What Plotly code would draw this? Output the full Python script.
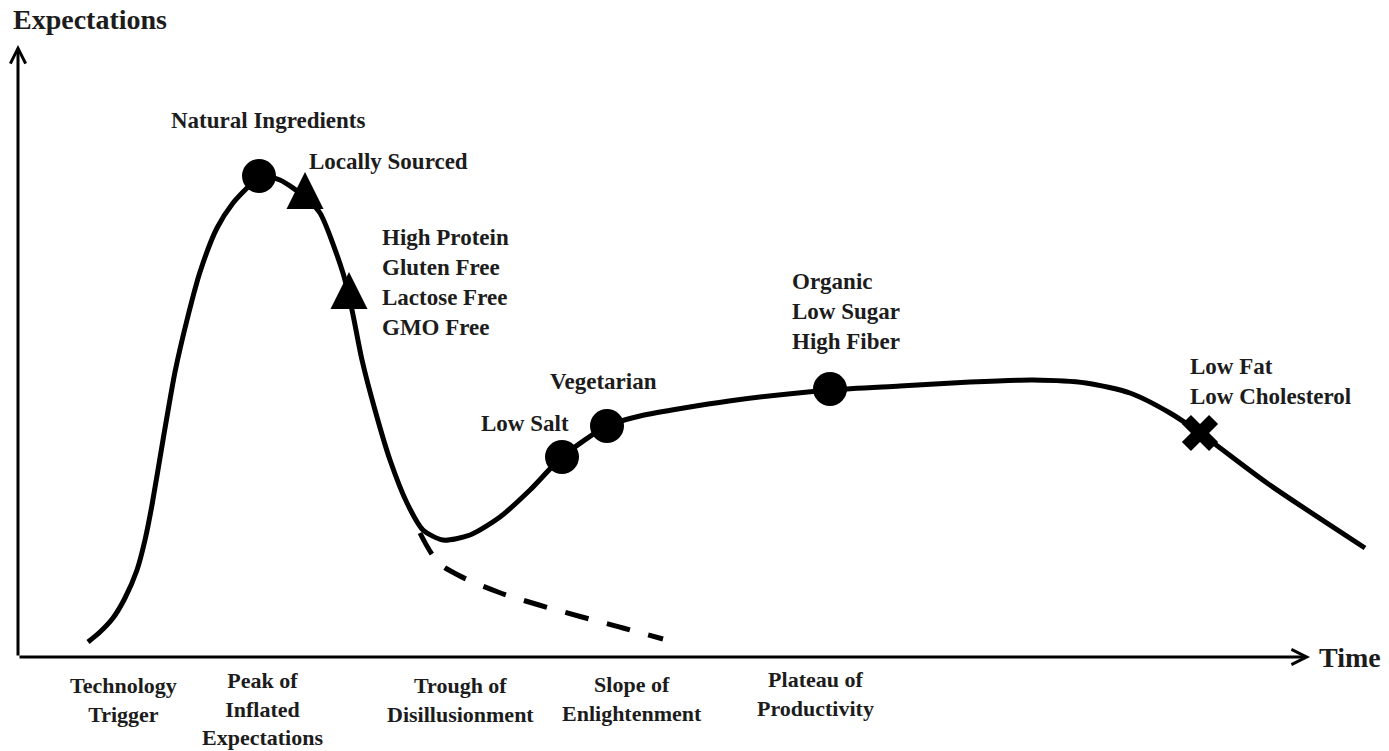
import plotly.graph_objects as go

# Hype-cycle curve (pixel-like coordinates: x to the right, y downward)
curve_x = [88, 100, 113, 125, 137, 145, 152, 163, 175, 187, 200, 217, 233, 247, 260, 280, 305, 320, 343, 352, 362, 375, 390, 407, 423, 443, 470, 500, 530, 562, 607, 640, 729, 831, 900, 970, 1033, 1086, 1130, 1170, 1200, 1267, 1365]
curve_y = [642, 632, 618, 598, 570, 540, 505, 440, 372, 320, 272, 228, 203, 188, 176, 180, 197, 213, 273, 310, 360, 410, 460, 503, 530, 540, 535, 517, 490, 457, 426, 416, 401, 390, 386, 382, 380, 383, 393, 413, 433, 483, 548]

# Dashed "failure" branch
dash_x = [420, 438, 458, 498, 539, 582, 623, 663]
dash_y = [533, 562, 575, 592, 605, 617, 628, 639]

# Items on the curve
circle_names = ["Natural Ingredients", "Low Salt", "Vegetarian", "Organic / Low Sugar / High Fiber"]
circle_x = [259, 562, 607, 830]
circle_y = [176, 457, 426, 389]

triangle_names = ["Locally Sourced", "High Protein / Gluten Free / Lactose Free / GMO Free"]
triangle_x = [305, 349]
triangle_y = [172, 272]  # apex of the triangle

cross_names = ["Low Fat / Low Cholesterol"]
cross_x = [1200]
cross_y = [433]

# Item labels
label_text = ["Natural Ingredients", "Locally Sourced",
              "High Protein<br>Gluten Free<br>Lactose Free<br>GMO Free",
              "Low Salt", "Vegetarian", "Organic<br>Low Sugar<br>High Fiber",
              "Low Fat<br>Low Cholesterol"]
label_x = [268, 307, 380, 571, 548, 790, 1188]
label_y = [120, 161, 282, 423, 381, 311, 381]
label_anchor = ["center", "left", "left", "right", "left", "left", "left"]

# Phase labels along the time axis
phase_text = ["Technology<br>Trigger", "Peak of<br>Inflated<br>Expectations",
              "Trough of<br>Disillusionment", "Slope of<br>Enlightenment",
              "Plateau of<br>Productivity"]
phase_x = [123, 262, 460, 632, 815]
phase_y = [671, 666, 671, 670, 665]

FONT = "Liberation Serif, Times New Roman, serif"
TXT = "#1c1c1c"

fig = go.Figure()
fig.add_trace(go.Scatter(x=curve_x, y=curve_y, mode="lines",
                         line=dict(color="black", width=5, shape="spline", smoothing=0.7),
                         hoverinfo="skip", showlegend=False))
fig.add_trace(go.Scatter(x=dash_x, y=dash_y, mode="lines",
                         line=dict(color="black", width=5, dash="24px,19px", shape="spline"),
                         hoverinfo="skip", showlegend=False))
fig.add_trace(go.Scatter(x=circle_x, y=circle_y, mode="markers", text=circle_names,
                         marker=dict(symbol="circle", size=34, color="black"),
                         showlegend=False))
fig.add_trace(go.Scatter(x=triangle_x, y=triangle_y, mode="markers", text=triangle_names,
                         marker=dict(symbol="arrow-up", size=37, color="black"),
                         showlegend=False))
fig.add_trace(go.Scatter(x=cross_x, y=cross_y, mode="markers", text=cross_names,
                         marker=dict(symbol="x", size=32, color="black"),
                         showlegend=False))

# Axes with arrows
fig.add_annotation(x=18, y=45, ax=18, ay=657, xref="x", yref="y", axref="x", ayref="y",
                   text="", showarrow=True, arrowhead=5, arrowsize=1, arrowwidth=3,
                   arrowcolor="black")
fig.add_annotation(x=1310, y=657, ax=18, ay=657, xref="x", yref="y", axref="x", ayref="y",
                   text="", showarrow=True, arrowhead=5, arrowsize=1, arrowwidth=3,
                   arrowcolor="black")
fig.add_annotation(x=11, y=19, text="<b>Expectations</b>", showarrow=False,
                   xanchor="left", yanchor="middle", font=dict(family=FONT, size=28, color=TXT))
fig.add_annotation(x=1317, y=657, text="<b>Time</b>", showarrow=False,
                   xanchor="left", yanchor="middle", font=dict(family=FONT, size=28, color=TXT))

for t, x, y, a in zip(label_text, label_x, label_y, label_anchor):
    fig.add_annotation(x=x, y=y, text="<b>" + t.replace("<br>", "</b><br><b>") + "</b>",
                       showarrow=False, xanchor=a, yanchor="middle", align="left",
                       font=dict(family=FONT, size=23, color=TXT))

for t, x, y in zip(phase_text, phase_x, phase_y):
    fig.add_annotation(x=x, y=y, text="<b>" + t.replace("<br>", "</b><br><b>") + "</b>",
                       showarrow=False, xanchor="center", yanchor="top", align="center",
                       font=dict(family=FONT, size=22, color=TXT))

fig.update_layout(
    width=1389, height=751,
    margin=dict(l=0, r=0, t=0, b=0),
    paper_bgcolor="white", plot_bgcolor="white",
    xaxis=dict(range=[0, 1389], visible=False, fixedrange=True),
    yaxis=dict(range=[751, 0], visible=False, fixedrange=True),
    hovermode="closest",
)

fig.write_html("out.html", config={"displayModeBar": False},
               post_script="document.body.style.margin='0';document.body.style.overflow='hidden';")
